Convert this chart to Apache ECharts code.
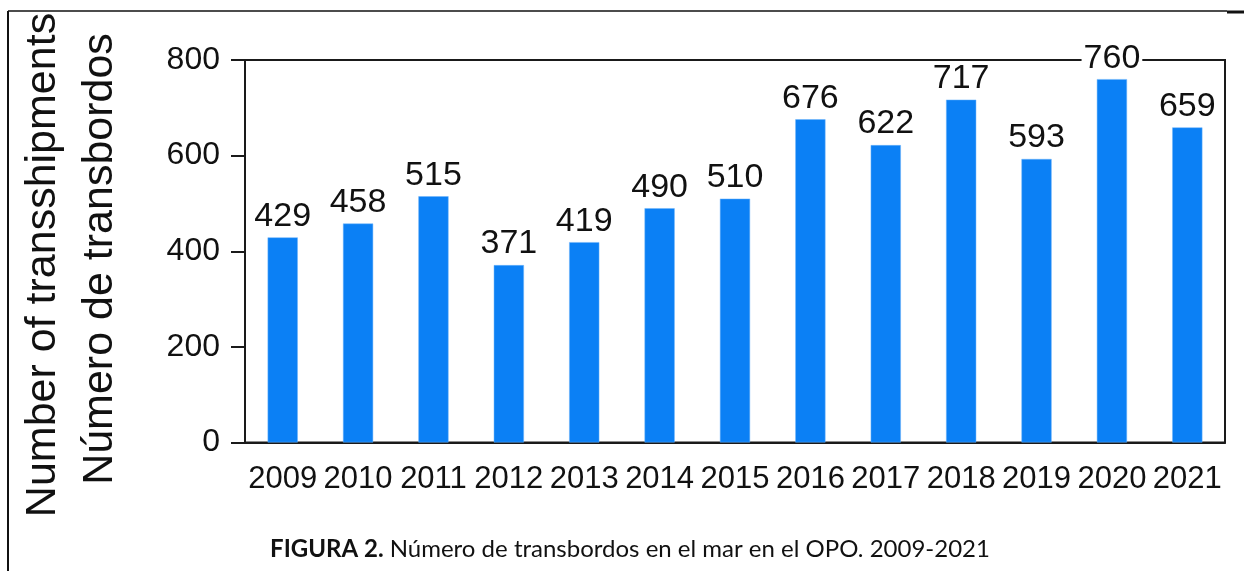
<!DOCTYPE html>
<html lang="es">
<head>
    <meta charset="UTF-8">
    <title>Número de transbordos</title>
    <script src="https://cdn.jsdelivr.net/npm/echarts@6/dist/echarts.min.js"></script>
    <style>
        html, body { margin: 0; padding: 0; background: #fff; }
    </style>
</head>
<body>
<div id="main" style="width: 1244px;height:571px;"></div>

<script>
    // datos del gráfico
    var years = ['2009', '2010', '2011', '2012', '2013', '2014', '2015', '2016', '2017', '2018', '2019', '2020', '2021'];
    var transbordos = [429, 458, 515, 371, 419, 490, 510, 676, 622, 717, 593, 760, 659];
    var yTicks = [0, 200, 400, 600, 800];
    var yTitle = ['Number of transshipments', 'Número de transbordos'];
    var caption = ['FIGURA 2.', ' Número de transbordos en el mar en el OPO. 2009-2021'];

    var myChart = echarts.init(document.getElementById('main'));
    var font = '"Liberation Sans", Arial, sans-serif';

    var option = {
        animation: false,
        grid: {
            left: 245,
            right: 19,
            top: 60,
            bottom: 128.5,
            show: true,
            borderColor: '#1a1a1a',
            borderWidth: 2,
            z: 1
        },
        xAxis: {
            type: 'category',
            data: years,
            axisLine: { lineStyle: { color: '#1a1a1a', width: 2 } },
            axisTick: { alignWithLabel: true, length: 14, lineStyle: { color: '#1a1a1a', width: 2 } },
            axisLabel: { color: '#111', fontFamily: font, fontSize: 31, margin: 21, interval: 0 }
        },
        yAxis: {
            type: 'value',
            min: yTicks[0],
            max: yTicks[yTicks.length - 1],
            interval: 200,
            splitLine: { show: false },
            axisLine: { show: true, lineStyle: { color: '#1a1a1a', width: 2 } },
            axisTick: { show: true, length: 14, lineStyle: { color: '#1a1a1a', width: 2 } },
            axisLabel: { color: '#111', fontFamily: font, fontSize: 32, margin: 25 }
        },
        series: [{
            type: 'bar',
            data: transbordos,
            barWidth: '40%',
            z: 3,
            itemStyle: { color: '#0b80f5', borderColor: '#6fb4fb', borderWidth: 0.5 },
            label: {
                show: true,
                position: 'top',
                distance: 4,
                color: '#111',
                fontFamily: font,
                fontSize: 34,
                backgroundColor: '#fff',
                padding: [0, 2, 0, 2]
            }
        }],
        graphic: [
            // marco de la página
            { type: 'line', shape: { x1: 8, y1: 11, x2: 1227, y2: 11 }, style: { stroke: '#111', lineWidth: 1.5 } },
            { type: 'line', shape: { x1: 1227, y1: 12, x2: 1244, y2: 12 }, style: { stroke: '#111', lineWidth: 3 } },
            { type: 'line', shape: { x1: 8, y1: 11, x2: 8, y2: 571 }, style: { stroke: '#111', lineWidth: 2 } },
            // título del eje y
            {
                type: 'text', x: 43, y: 265, rotation: Math.PI / 2,
                style: { text: yTitle[0], fontFamily: font, fontSize: 43, fill: '#111', align: 'center', verticalAlign: 'middle' }
            },
            {
                type: 'text', x: 100, y: 259, rotation: Math.PI / 2,
                style: { text: yTitle[1], fontFamily: font, fontSize: 43, fill: '#111', align: 'center', verticalAlign: 'middle' }
            },
            // pie de figura
            {
                type: 'text', x: 630, y: 549,
                style: {
                    text: '{b|' + caption[0] + '}{n|' + caption[1] + '}',
                    align: 'center', verticalAlign: 'middle',
                    rich: {
                        b: { fontFamily: 'Lato, sans-serif', fontWeight: 'bold', fontSize: 24, fill: '#111' },
                        n: { fontFamily: 'Lato, sans-serif', fontSize: 24, fill: '#111' }
                    }
                }
            }
        ]
    };

    myChart.setOption(option);
</script>
</body>
</html>
